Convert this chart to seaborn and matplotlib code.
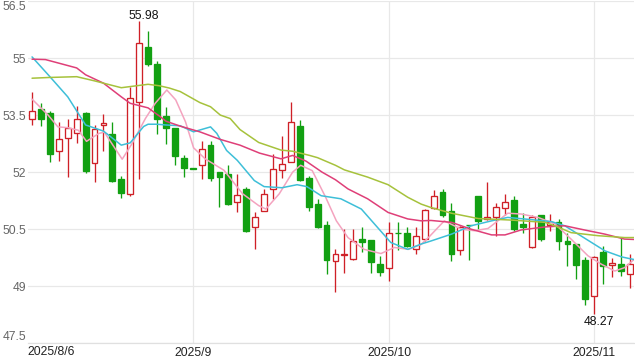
import numpy as np
import pandas as pd
import matplotlib
matplotlib.use("Agg")
import matplotlib.pyplot as plt
import matplotlib.transforms as mtransforms
import seaborn as sns

# ---------------- data ----------------
dates = pd.bdate_range("2025-08-06", periods=68)

opens = [53.41, 53.66, 53.55, 52.56, 52.91, 53.04, 53.55, 52.25, 53.23, 53.00,
         51.81, 51.43, 53.84, 55.29, 54.84, 53.47, 53.15, 52.38, 52.10, 52.20,
         52.71, 52.00, 51.96, 51.21, 51.56, 50.56, 50.99, 51.56, 52.05, 52.28,
         53.21, 51.84, 51.15, 50.62, 49.66, 49.82, 49.71, 50.24, 50.21, 49.58,
         49.47, 50.41, 50.41, 49.97, 50.24, 51.07, 51.47, 50.97, 49.95, 50.61,
         51.36, 50.77, 50.81, 51.07, 51.27, 50.64, 50.03, 50.88, 50.62, 50.70,
         50.19, 50.12, 49.68, 48.74, 49.90, 49.55, 49.58, 49.31]
highs = [54.10, 53.81, 53.61, 53.32, 53.41, 53.75, 53.57, 53.24, 53.54, 53.31,
         51.89, 54.23, 55.98, 55.72, 54.93, 53.70, 53.17, 52.46, 52.11, 52.81,
         52.81, 52.00, 52.18, 51.94, 51.62, 50.96, 51.56, 52.49, 52.94, 53.85,
         53.37, 51.91, 51.30, 50.72, 49.97, 50.50, 50.50, 50.57, 50.21, 49.80,
         50.70, 50.70, 50.55, 50.57, 51.03, 51.52, 51.56, 51.19, 50.59, 50.62,
         51.38, 51.74, 51.18, 51.43, 51.36, 50.92, 50.88, 50.88, 50.90, 50.77,
         50.41, 50.12, 49.77, 49.80, 50.06, 49.75, 50.28, 49.84]
lows = [53.25, 53.21, 52.26, 52.29, 51.87, 52.77, 51.98, 51.74, 52.55, 51.74,
        51.31, 51.38, 51.81, 54.80, 52.99, 52.75, 52.18, 51.87, 52.08, 51.81,
        51.78, 51.09, 51.14, 50.94, 50.42, 49.97, 50.97, 51.30, 51.84, 52.26,
        51.78, 50.99, 50.53, 49.33, 48.85, 49.35, 49.69, 49.90, 49.35, 49.27,
        49.15, 49.95, 50.04, 49.86, 50.19, 51.03, 50.81, 49.66, 49.82, 49.68,
        50.50, 50.75, 50.33, 50.87, 50.46, 50.41, 50.00, 50.19, 50.46, 49.95,
        49.53, 49.18, 48.52, 48.27, 49.06, 49.24, 49.27, 48.96]
closes = [53.61, 53.41, 52.49, 52.88, 53.17, 53.39, 52.02, 53.13, 53.28, 51.76,
          51.46, 53.94, 55.40, 54.85, 53.41, 53.17, 52.42, 52.12, 52.09, 52.62,
          51.84, 51.87, 51.16, 51.40, 50.44, 50.81, 51.43, 52.09, 52.22, 53.31,
          51.80, 51.09, 50.55, 49.69, 49.84, 49.85, 50.19, 50.17, 49.65, 49.38,
          50.39, 50.39, 50.06, 50.33, 51.01, 51.36, 50.87, 49.84, 50.55, 50.60,
          50.72, 50.81, 51.09, 51.21, 50.50, 50.55, 50.81, 50.24, 50.70, 50.19,
          50.12, 49.56, 48.67, 49.77, 49.53, 49.60, 49.40, 49.59]

# moving-average lines (x = candle index)
ma5_idx = [0, 1.8, 2.9, 4, 5.2, 6.1, 7.5, 8.1, 10.1, 11.2, 12.7, 13.8, 15.1, 16.1,
           17.2, 18.1, 19.4, 21.5, 23.6, 25.4, 26.2, 27.7, 29.2, 30.1, 31.4, 32.9,
           34.1, 35.4, 37.2, 39.1, 40.6, 42.2, 43.6, 44.5, 46.2, 48.1, 49.6, 51.1,
           53.3, 54.8, 56.7, 58.6, 60.4, 62.3, 63.8, 65.3, 66.4, 67.5]
ma5_val = [53.92, 53.50, 53.19, 53.17, 53.10, 52.81, 53.02, 53.05, 52.34, 52.75,
           53.41, 53.81, 54.16, 53.90, 53.32, 52.64, 52.35, 52.05, 51.43, 51.12,
           51.03, 51.43, 52.00, 52.18, 52.04, 51.34, 50.72, 50.28, 49.97, 49.86,
           50.02, 49.97, 50.10, 50.30, 50.72, 50.50, 50.46, 50.52, 50.92, 50.90,
           50.81, 50.64, 50.24, 49.80, 49.58, 49.40, 49.49, 49.71]

ma10_idx = [0, 2, 4, 6, 8, 10, 11, 12.5, 13, 14, 15, 16.6, 18.1, 20, 20.7, 21.8,
            23, 24.9, 26, 28, 29.7, 30.8, 32.4, 34.6, 36.9, 38.7, 40.2, 42.1, 43.6,
            44.7, 47, 49.2, 51.5, 53.3, 56, 58.2, 59.7, 61.2, 62.7, 64.2, 66.1, 67.5]
ma10_val = [55.03, 54.51, 53.98, 53.24, 53.08, 52.71, 52.77, 53.20, 53.26, 53.26,
            53.24, 53.22, 53.06, 53.19, 53.02, 52.57, 52.31, 51.78, 51.62, 51.59,
            51.67, 51.62, 51.38, 51.30, 51.03, 50.55, 50.15, 49.97, 50.11, 50.19,
            50.37, 50.59, 50.72, 50.81, 50.75, 50.70, 50.59, 50.37, 50.15, 49.93,
            49.77, 49.70]

ma20_idx = [0, 1.5, 5, 6, 8, 10, 11, 13, 14.3, 15, 16.6, 18.8, 21.1, 23.3, 25.5,
            27.9, 29.2, 30.7, 32.5, 34, 35.4, 37.6, 39.9, 42.1, 43.6, 44.7, 47,
            49.2, 51.5, 53, 54.8, 57.5, 59.7, 61.9, 64.2, 66.4, 67.5]
ma20_val = [54.97, 54.96, 54.74, 54.56, 54.34, 53.98, 53.81, 53.69, 53.47, 53.34,
            53.21, 53.06, 52.86, 52.71, 52.50, 52.35, 52.44, 52.29, 52.00, 51.80,
            51.56, 51.30, 50.94, 50.77, 50.72, 50.73, 50.68, 50.50, 50.35, 50.35,
            50.48, 50.56, 50.59, 50.48, 50.37, 50.24, 50.23]

ma30_idx = [0, 2, 5, 7, 8, 10, 11, 13, 14.3, 15.4, 16.6, 18.8, 20, 21.1, 22.2,
            23.3, 25.4, 27.9, 29.2, 31.1, 32, 34, 35, 37.6, 39.9, 42.1, 43.6, 44.7,
            47, 50, 53.7, 57.5, 59, 60.4, 63.4, 66.4, 67.5]
ma30_val = [54.47, 54.49, 54.51, 54.40, 54.34, 54.22, 54.25, 54.31, 54.27, 54.21,
            54.12, 53.83, 53.72, 53.50, 53.41, 53.12, 52.78, 52.58, 52.55, 52.44,
            52.38, 52.18, 52.06, 51.87, 51.67, 51.34, 51.16, 51.07, 50.92, 50.78,
            50.74, 50.68, 50.55, 50.41, 50.33, 50.28, 50.28]

y_ticks = [47.5, 49, 50.5, 52, 53.5, 55, 56.5]
y_labels = ["47.5", "49", "50.5", "52", "53.5", "55", "56.5"]

# ---------------- style ----------------
sns.set_theme(style="white")
plt.rcParams["font.family"] = ["Liberation Sans", "DejaVu Sans"]

UP = "#cf2027"
DOWN = "#12a012"
ma_colors = {"MA5": "#f4a3bf", "MA10": "#3ebfd8", "MA20": "#df3f78", "MA30": "#a6c23c"}

fig = plt.figure(figsize=(6.35, 3.58), dpi=100)
ax = fig.add_axes([27.6 / 635, 14.7 / 358, 606.8 / 635, 342.3 / 358])

n = len(opens)
x = np.arange(n)
o = np.array(opens); c = np.array(closes); h = np.array(highs); l = np.array(lows)
up = c >= o
colors = np.where(up, UP, DOWN)

# wicks
ax.vlines(x, l, h, colors=colors, linewidth=0.95, zorder=2)
# bodies
bottoms = np.minimum(o, c)
heights = np.maximum(np.abs(c - o), 0.015)
faces = np.where(up, "white", DOWN)
ax.bar(x, heights, bottom=bottoms, width=0.66, color=faces, edgecolor=colors,
       linewidth=0.95, zorder=3)

# moving averages via seaborn
frames = []
for name, ix, vals in [("MA5", ma5_idx, ma5_val), ("MA10", ma10_idx, ma10_val),
                       ("MA20", ma20_idx, ma20_val), ("MA30", ma30_idx, ma30_val)]:
    frames.append(pd.DataFrame({"idx": ix, "value": vals, "ma": name}))
ma_df = pd.concat(frames, ignore_index=True)
sns.lineplot(data=ma_df, x="idx", y="value", hue="ma", palette=ma_colors,
             estimator=None, sort=False, legend=False, linewidth=1.1, ax=ax, zorder=4)

# axes
ax.set_xlim(-0.5, n - 0.5)
ax.set_ylim(47.5, 56.5)
ax.set_xlabel("")
ax.set_ylabel("")

month_pos = [i for i in range(1, n) if dates[i].month != dates[i - 1].month]
ax.set_xticks(month_pos)
ax.set_xticklabels([f"{dates[i].year}/{dates[i].month}" for i in month_pos],
                   fontsize=8.7, color="#222222")
ax.set_yticks(y_ticks)
ax.set_yticklabels(y_labels, fontsize=8.7, color="#666666")
ylabs = ax.get_yticklabels()
ylabs[0].set_va("bottom")
ylabs[-1].set_va("top")
ax.tick_params(axis="x", length=0, pad=2.5)
ax.tick_params(axis="y", length=0, pad=1)

first_lbl = f"{dates[0].year}/{dates[0].month}/{dates[0].day}"
ax.text(-0.5, -0.008, first_lbl, transform=mtransforms.blended_transform_factory(ax.transData, ax.transAxes),
        ha="left", va="top", fontsize=8.7, color="#222222")

ax.grid(True, color="#e8e8e8", linewidth=0.9, zorder=0)
ax.set_axisbelow(True)
for s in ["top", "right", "left"]:
    ax.spines[s].set_visible(False)
ax.spines["bottom"].set_color("#e0e0e0")
ax.spines["bottom"].set_linewidth(0.9)

# max / min annotations
imax = int(np.argmax(h)); imin = int(np.argmin(l))
ax.annotate(f"{h[imax]:.2f}", (imax, h[imax]), xytext=(3, 1), textcoords="offset points",
            ha="center", va="baseline", fontsize=8.7, color="#111111", zorder=5)
ax.annotate(f"{l[imin]:.2f}", (imin, l[imin]), xytext=(3, -1.5), textcoords="offset points",
            ha="center", va="top", fontsize=8.7, color="#111111", zorder=5)

fig.savefig("out.png", dpi=100, facecolor="white")
